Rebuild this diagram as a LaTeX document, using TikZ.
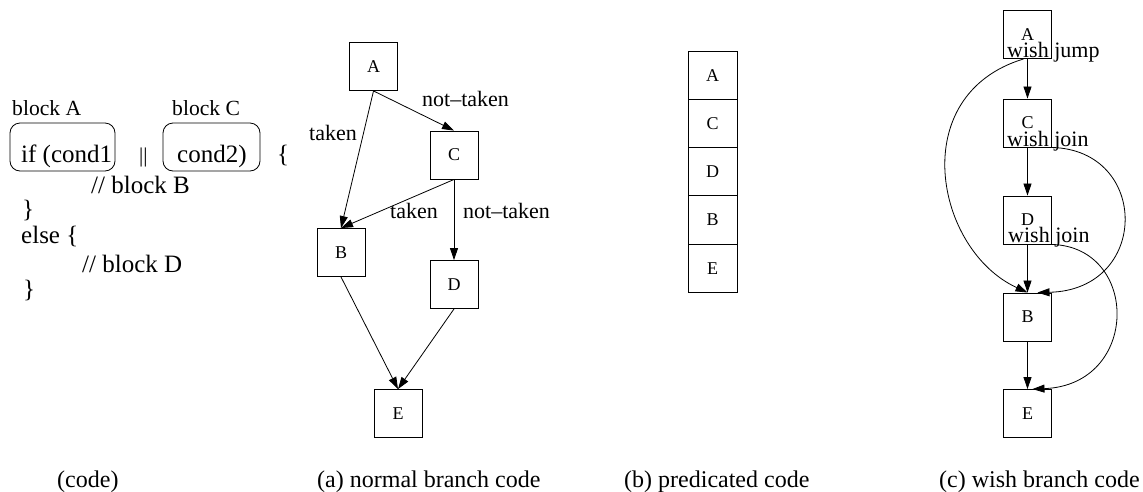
\documentclass[tikz,border=0pt]{standalone}
\usepackage{fontspec}
\setmainfont{Liberation Serif}
\usetikzlibrary{arrows.meta}

\tikzset{
  blk/.style={draw, line width=0.9pt, minimum width=48pt, minimum height=48pt,
    inner sep=0pt, font=\fontsize{18}{20}\selectfont},
  cell/.style={blk, minimum width=49pt, minimum height=48.25pt},
  flow/.style={-{Triangle[length=12pt,width=8pt]}, line width=0.8pt},
  lbl/.style={inner sep=0pt, anchor=base west, font=\fontsize{22}{24}\selectfont},
  captext/.style={inner sep=0pt, anchor=base west, font=\fontsize{24}{28}\selectfont},
  code/.style={inner sep=0pt, anchor=base west, font=\fontsize{25}{28}\selectfont},
  tag/.style={inner sep=0pt, anchor=base west, font=\fontsize{21.6}{24}\selectfont},
  condbox/.style={draw, line width=0.8pt, rounded corners=10pt, inner sep=0pt,
    minimum height=48pt},
}

\begin{document}
\begin{tikzpicture}[x=1pt, y=-1pt]
\useasboundingbox (0,0) rectangle (1143,491);

% ---- source code with the two condition blocks ----
\node[tag] (tagA) at (12,115) {block A};
\node[tag] (tagC) at (172,115) {block C};
\node[condbox, minimum width=105pt] (boxA) at (62.5,147) {};
\node[condbox, minimum width=97pt] (boxC) at (211.5,147) {};
\node[code] (ifA) at (21,162) {if (cond1};
\node[code, font=\fontsize{21}{24}\selectfont] (orop) at (139,162) {||};
\node[code] (condC) at (177,162) {cond2)};
\node[code] (openB) at (277,162) {\{};
\node[code] (bodyB) at (91,193) {// block B};
\node[code] (closeB) at (22,217) {\}};
\node[code] (elsekw) at (21,243) {else \{};
\node[code] (bodyD) at (82,272) {// block D};
\node[code] (closeD) at (23,297) {\}};

% ---- (a) normal branch code ----
\node[blk] (aA) at (373.5,66.5) {A};
\node[blk] (aC) at (454,155) {C};
\node[blk] (aB) at (341,252.5) {B};
\node[blk] (aD) at (454,284.5) {D};
\node[blk] (aE) at (398,413.5) {E};
\draw[flow] (aA.south) -- (aB.north);
\draw[flow] (aA.south) -- (aC.north);
\draw[flow] (aC.south) -- (aB.north);
\draw[flow] (aC.south) -- (aD.north);
\draw[flow] (aB.south) -- (aE.north);
\draw[flow] (aD.south) -- (aE.north);
\node[lbl] (tk1) at (309,140) {taken};
\node[lbl] (nt1) at (422,106) {not--taken};
\node[lbl] (tk2) at (390,218) {taken};
\node[lbl] (nt2) at (463,218) {not--taken};

% ---- (b) predicated code ----
\node[cell] (bA) at (712.5,75.25) {A};
\node[cell] (bC) at (712.5,123.5) {C};
\node[cell] (bD) at (712.5,171.75) {D};
\node[cell] (bB) at (712.5,220) {B};
\node[cell] (bE) at (712.5,268.25) {E};

% ---- (c) wish branch code ----
\node[blk] (cA) at (1027.5,34.5) {A};
\node[blk] (cC) at (1027.5,123) {C};
\node[blk] (cD) at (1027.5,220) {D};
\node[blk] (cB) at (1027.5,317) {B};
\node[blk] (cE) at (1027.5,413.5) {E};
\draw[flow] (cA.south) -- (cC.north);
\draw[flow] (cC.south) -- (cD.north);
\draw[flow] (cD.south) -- (cB.north);
\draw[flow] (cB.south) -- (cE.north);
\draw[flow] ([xshift=-4pt]cA.south) .. controls (905,95) and (935,250) .. (cB.north);
\draw[flow] (cC.south east) .. controls (1150,150) and (1150,290) .. ([xshift=10pt]cB.north);
\draw[flow] (cD.south east) .. controls (1140,247) and (1140,385) .. ([xshift=5pt]cE.north);
\node[lbl] (wj) at (1007,57) {wish jump};
\node[lbl] (wc) at (1007,146) {wish join};
\node[lbl] (wd) at (1008,242) {wish join};

% ---- captions ----
\node[captext] (capcode) at (57,487) {(code)};
\node[captext] (capa) at (317,487) {(a) normal branch code};
\node[captext] (capb) at (624,487) {(b) predicated code};
\node[captext] (capc) at (939,487) {(c) wish branch code};
\end{tikzpicture}
\end{document}
